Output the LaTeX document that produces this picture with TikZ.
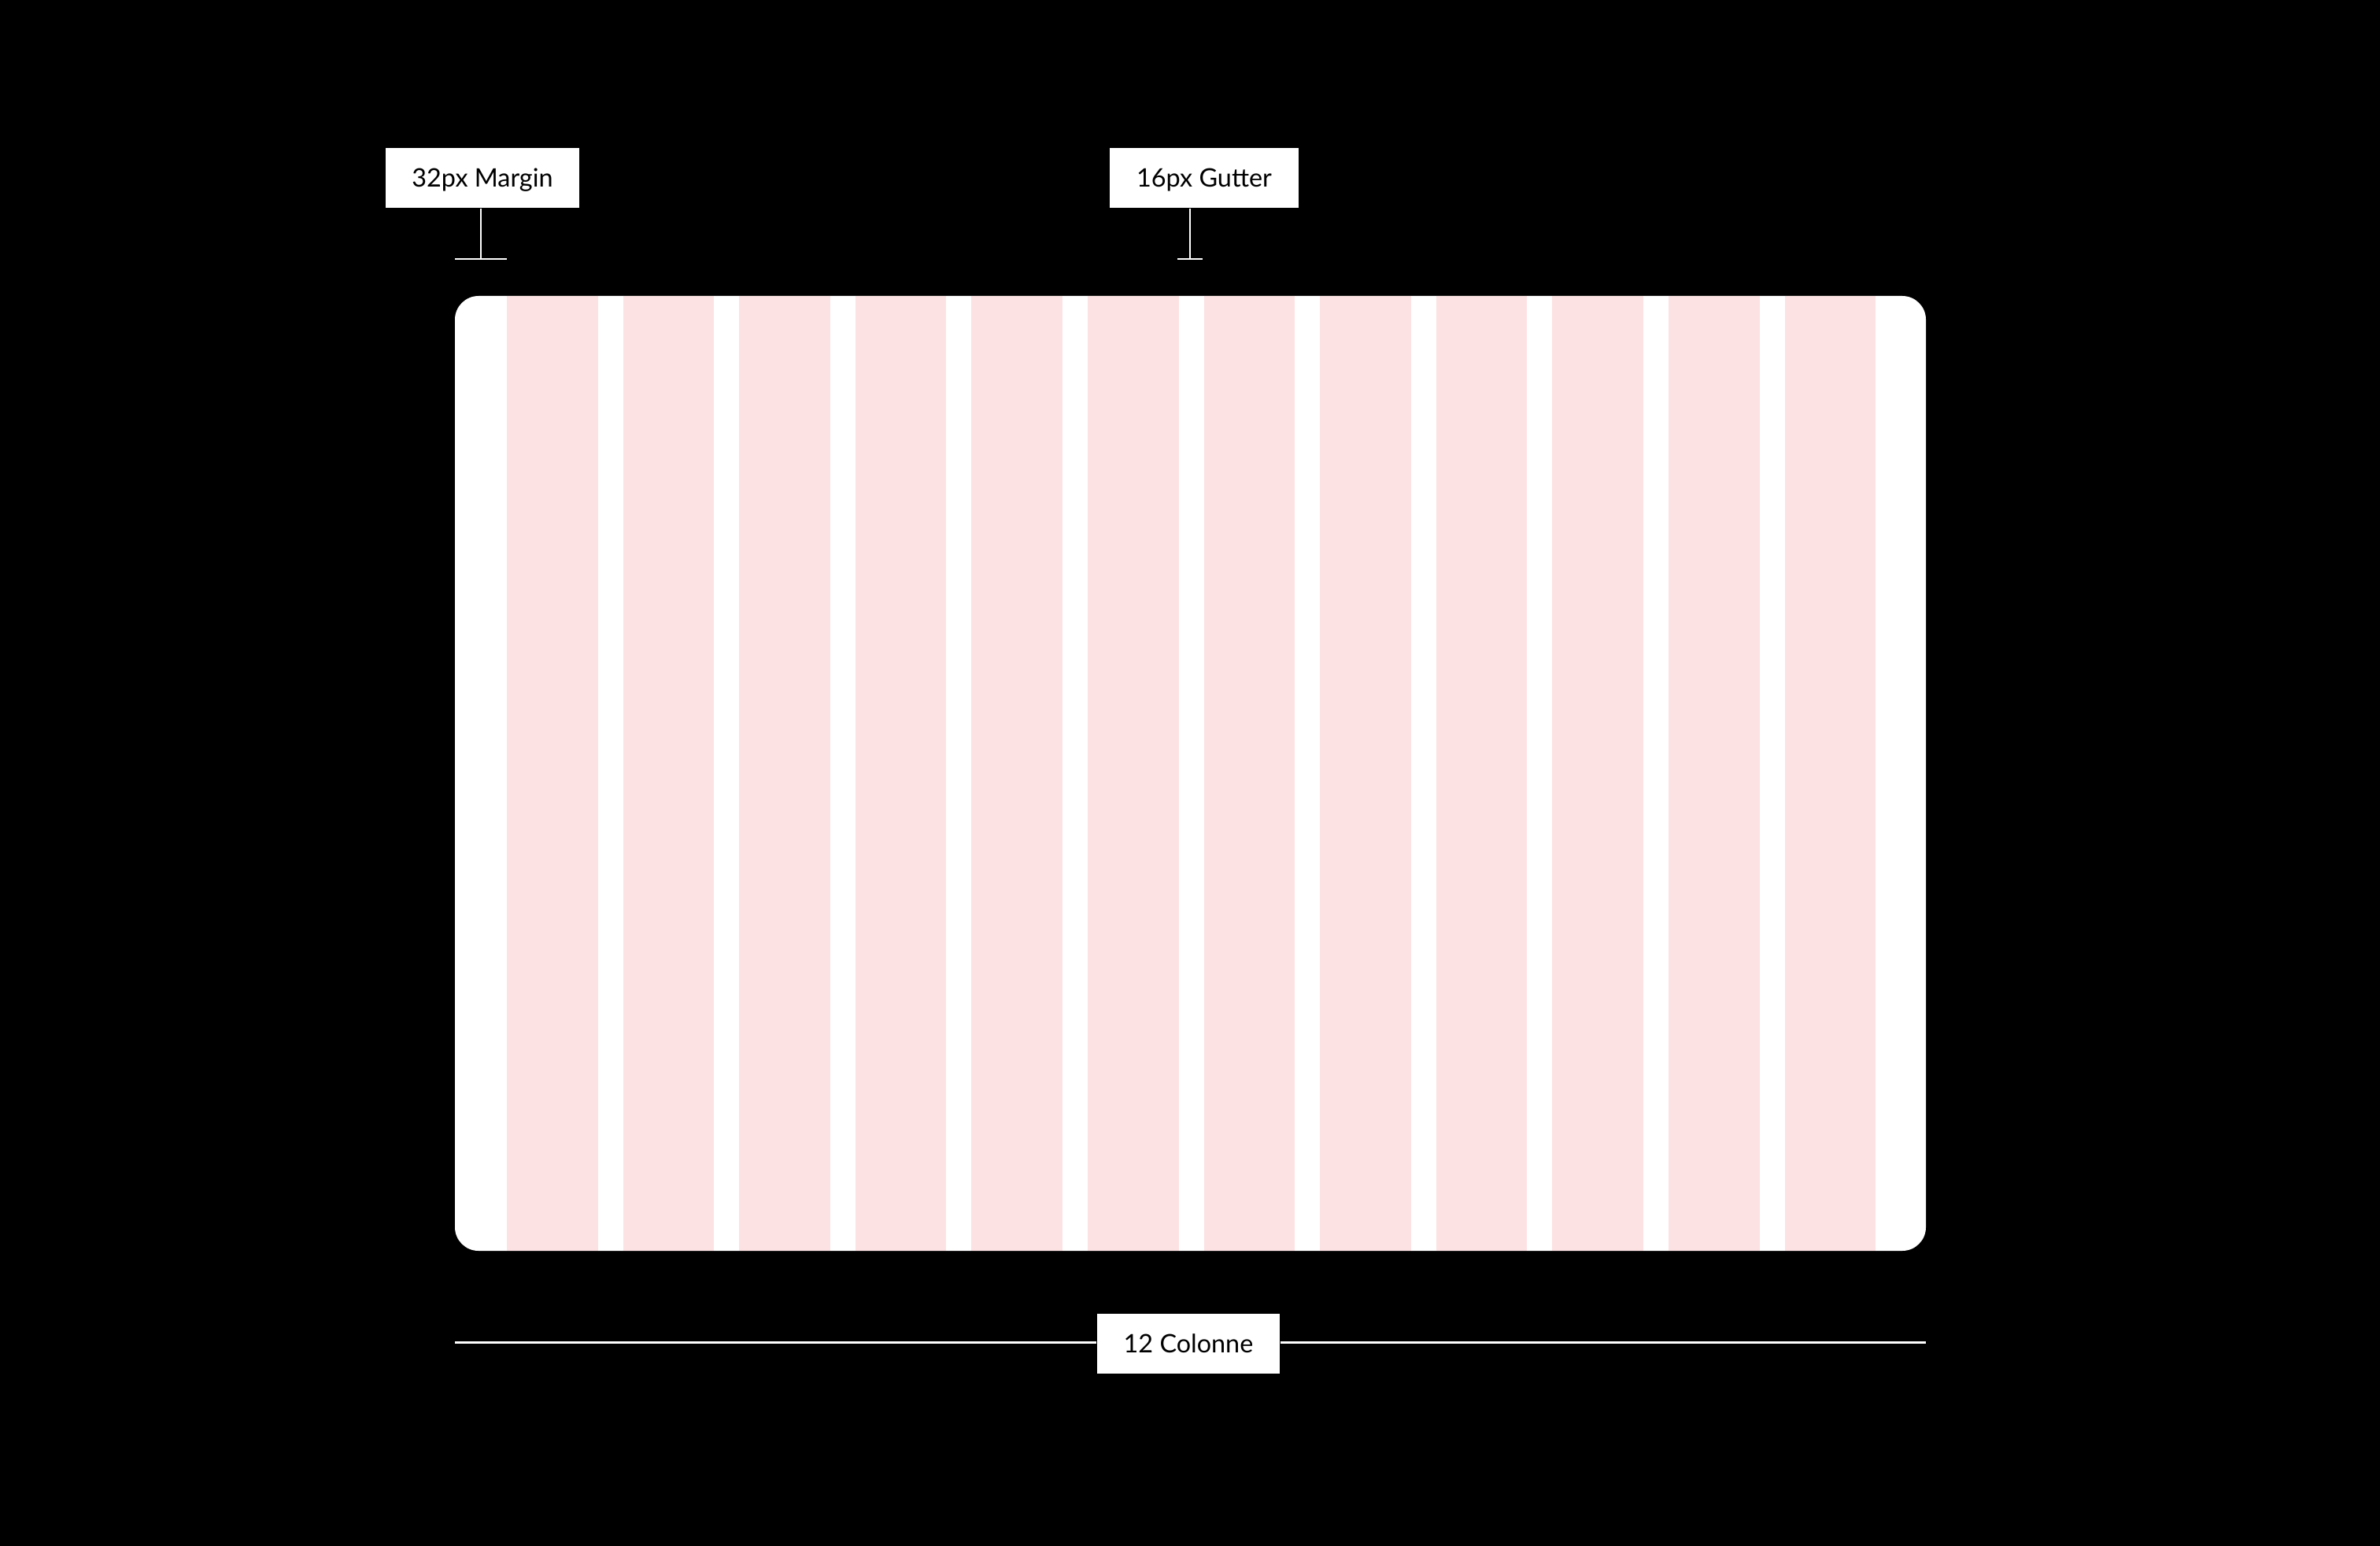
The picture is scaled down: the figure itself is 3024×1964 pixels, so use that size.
\documentclass[tikz,border=0pt]{standalone}
\usepackage{fontspec}
\setmainfont{Lato}
\usepackage{xcolor}
\usetikzlibrary{positioning}
\definecolor{gridPink}{HTML}{FDE2E3}

\begin{document}
\begin{tikzpicture}[x=0.01cm, y=-0.01cm, font=\fontsize{9.2}{11}\selectfont,
    tag/.style={fill=white, text=black, inner sep=0pt, text depth=0pt, minimum height=0.76cm},
    tick/.style={draw=white, line width=0.7pt}]
        \fill[black] (0,0) rectangle (3024,1964);
        \useasboundingbox (0,0) rectangle (3024,1964);

        \fill[white, rounded corners=0.3cm] (578,376) rectangle (2447,1589);
        \foreach \i in {0,...,11}
            \fill[gridPink] ({644+147.6*\i},376) rectangle ({759.6+147.6*\i},1589);

        \node[tag, minimum width=2.46cm] (margin) at (613,226) {32px Margin};
        \node[tag, minimum width=2.40cm] (gutter) at (1530,226) {16px Gutter};
        \node[tag, minimum width=2.32cm, minimum height=0.75cm] (colonne) at (1510,1707) {12 Colonne};

        \coordinate (marginTick) at (611,329);
        \coordinate (gutterTick) at (1512,329);
        \draw[tick] (margin.south -| marginTick) -- (marginTick);
        \draw[tick] (578,329) -- (644,329);
        \draw[tick] (gutter.south -| gutterTick) -- (gutterTick);
        \draw[tick] ([xshift=-0.16cm]gutterTick) -- ([xshift=0.16cm]gutterTick);

        \coordinate (lineL) at (578,1705);
        \coordinate (lineR) at (2447,1705);
        \draw[white, line width=0.85pt] (lineL) -- (lineL -| colonne.west);
        \draw[white, line width=0.85pt] (lineR -| colonne.east) -- (lineR);
    \end{tikzpicture}
\end{document}
